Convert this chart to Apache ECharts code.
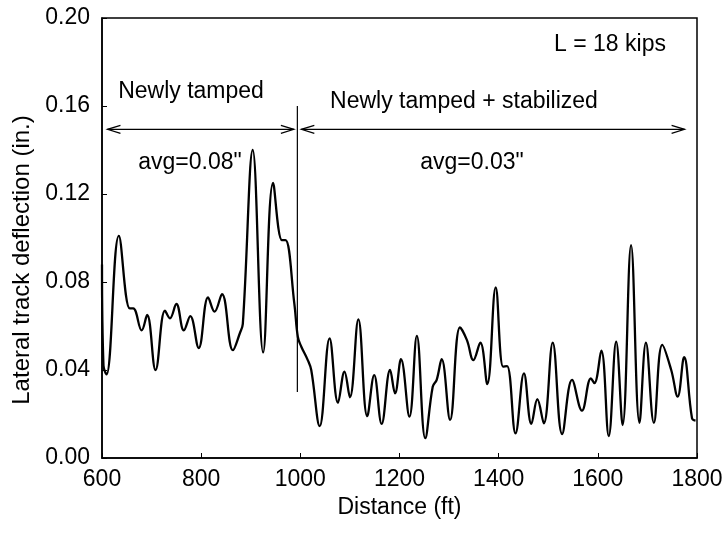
<!DOCTYPE html>
<html><head><meta charset="utf-8">
<script src="https://cdn.jsdelivr.net/npm/echarts@6/dist/echarts.min.js"></script>
<style>html,body{margin:0;padding:0;background:#fff}#c{width:726px;height:534px}</style>
</head><body><div id="c"></div>
<script>
const distance = [600, 603, 609, 634, 656, 663, 680, 691, 708, 727, 737, 750, 765, 778, 795, 814, 827, 842, 864, 878, 884, 904, 925, 945, 963, 970, 988, 995, 1002, 1015, 1022, 1039, 1059, 1076, 1089, 1100, 1117, 1135, 1149, 1164, 1181, 1191, 1203, 1220, 1235, 1252, 1267, 1275, 1285, 1302, 1322, 1336, 1349, 1363, 1377, 1394, 1409, 1417, 1434, 1451, 1466, 1478, 1491, 1509, 1528, 1548, 1568, 1586, 1593, 1607, 1622, 1637, 1650, 1667, 1684, 1697, 1713, 1730, 1748, 1761, 1774, 1790, 1797];
const deflection = [0.088, 0.042, 0.038, 0.101, 0.068, 0.068, 0.058, 0.065, 0.040, 0.067, 0.0635, 0.070, 0.058, 0.0645, 0.050, 0.073, 0.0665, 0.0745, 0.049, 0.0567, 0.061, 0.140, 0.048, 0.125, 0.099, 0.099, 0.070, 0.055, 0.0506, 0.0445, 0.040, 0.0145, 0.0544, 0.0251, 0.0392, 0.0276, 0.063, 0.019, 0.0377, 0.0155, 0.040, 0.0294, 0.0449, 0.0188, 0.0555, 0.009, 0.0324, 0.0355, 0.0449, 0.0173, 0.0594, 0.0536, 0.0445, 0.0524, 0.0336, 0.0776, 0.0415, 0.0418, 0.0112, 0.0385, 0.0155, 0.0267, 0.0158, 0.0524, 0.0109, 0.0355, 0.0215, 0.0362, 0.034, 0.0488, 0.010, 0.0529, 0.015, 0.0968, 0.016, 0.0524, 0.016, 0.0514, 0.040, 0.0279, 0.0458, 0.018, 0.017];
const xTicks = [600, 800, 1000, 1200, 1400, 1600, 1800];
const yTicks = [0.00, 0.04, 0.08, 0.12, 0.16, 0.20];
// annotations (data coordinates)
const dividerX = 994, dividerY = [0.030, 0.160];
const arrowY = 0.1494;
const leftArrow = [611, 987];
const rightArrow = [1002, 1775];

const FONT = '"Liberation Sans", Arial, Helvetica, sans-serif';
const FS = 23;
const chart = echarts.init(document.getElementById('c'));
chart.setOption({
  animation: false,
  backgroundColor: '#fff',
  grid: {left: 102, right: 29, top: 18, bottom: 76, show: true, borderColor: '#000', borderWidth: 1.5, backgroundColor: 'transparent'},
  xAxis: {
    type: 'value', min: xTicks[0], max: xTicks[xTicks.length-1], interval: 200,
    name: 'Distance (ft)', nameLocation: 'middle', nameGap: 28,
    nameTextStyle: {fontFamily: FONT, fontSize: FS, color: '#000'},
    axisLine: {lineStyle: {color: '#000', width: 1.5}},
    axisTick: {inside: true, length: 5, lineStyle: {color: '#000'}},
    axisLabel: {fontFamily: FONT, fontSize: FS, color: '#000', margin: 10, formatter: v => String(v)},
    splitLine: {show: false}
  },
  yAxis: {
    type: 'value', min: yTicks[0], max: yTicks[yTicks.length-1], interval: 0.04,
    name: 'Lateral track deflection (in.)', nameLocation: 'middle', nameGap: 68,
    nameTextStyle: {fontFamily: FONT, fontSize: FS + 1, color: '#000', padding: [0, 44, 0, 0]},
    axisLine: {show: true, lineStyle: {color: '#000', width: 1.5}},
    axisTick: {show: true, inside: true, length: 5, lineStyle: {color: '#000'}},
    axisLabel: {fontFamily: FONT, fontSize: FS, color: '#000', margin: 12, formatter: v => v.toFixed(2)},
    splitLine: {show: false}
  },
  series: [{
    type: 'line', smooth: 0.4, symbol: 'none',
    data: distance.map((d, i) => [d, deflection[i]]),
    lineStyle: {color: '#000', width: 2.3}
  }]
});

function px(x, y) { return chart.convertToPixel({gridIndex: 0}, [x, y]); }
function arrowHead(p, dir) {
  const L = 13, W = 4;
  return {type: 'polyline', shape: {points: [[p[0] - dir*L, p[1] - W], p, [p[0] - dir*L, p[1] + W]]}, style: {stroke: '#000', lineWidth: 1.2, fill: null}};
}
const d0 = px(dividerX, dividerY[0]), d1 = px(dividerX, dividerY[1]);
const la = px(leftArrow[0], arrowY), lb = px(leftArrow[1], arrowY);
const ra = px(rightArrow[0], arrowY), rb = px(rightArrow[1], arrowY);
const textStyle = (t, x, y) => ({type: 'text', x: x, y: y, style: {text: t, font: FS + 'px ' + FONT, fill: '#000', align: 'center', verticalAlign: 'middle'}});
chart.setOption({
  graphic: [
    {type: 'line', shape: {x1: d0[0], y1: d0[1], x2: d1[0], y2: d1[1]}, style: {stroke: '#000', lineWidth: 1.2}},
    {type: 'line', shape: {x1: la[0], y1: la[1], x2: lb[0], y2: lb[1]}, style: {stroke: '#000', lineWidth: 1.2}},
    {type: 'line', shape: {x1: ra[0], y1: ra[1], x2: rb[0], y2: rb[1]}, style: {stroke: '#000', lineWidth: 1.2}},
    arrowHead(la, -1), arrowHead(lb, 1), arrowHead(ra, -1), arrowHead(rb, 1),
    textStyle('L = 18 kips', 610, 45),
    textStyle('Newly tamped', 191, 92),
    textStyle('Newly tamped + stabilized', 464, 102),
    textStyle('avg=0.08"', 190, 163),
    textStyle('avg=0.03"', 472, 163)
  ]
});
</script></body></html>
